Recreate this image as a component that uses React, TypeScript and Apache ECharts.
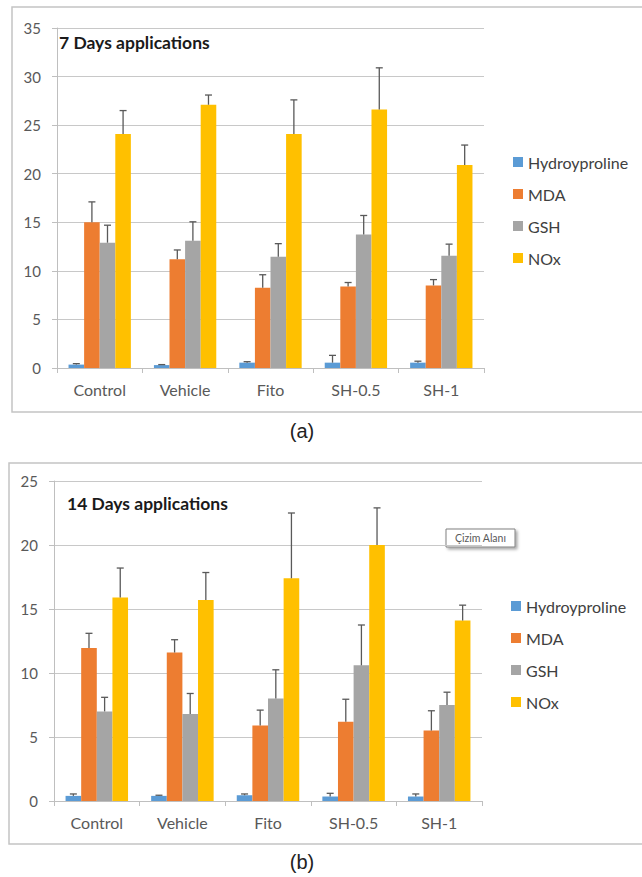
import React, { useEffect, useRef } from "react";
import * as echarts from "echarts";

const categories = ["Control", "Vehicle", "Fito", "SH-0.5", "SH-1"];
const seriesNames = ["Hydroyproline", "MDA", "GSH", "NOx"];
const colors = ["#5B9BD5", "#ED7D31", "#A5A5A5", "#FFC000"];

// 7 days
const hyp7 = [0.35, 0.3, 0.55, 0.55, 0.55];
const hyp7Err = [0.1, 0.05, 0.1, 0.75, 0.15];
const mda7 = [15.0, 11.2, 8.25, 8.4, 8.5];
const mda7Err = [2.1, 0.95, 1.35, 0.4, 0.6];
const gsh7 = [12.9, 13.1, 11.45, 13.75, 11.55];
const gsh7Err = [1.8, 1.95, 1.35, 1.95, 1.2];
const nox7 = [24.1, 27.1, 24.1, 26.6, 20.9];
const nox7Err = [2.4, 1.0, 3.5, 4.3, 2.05];

// 14 days
const hyp14 = [0.4, 0.4, 0.45, 0.35, 0.35];
const hyp14Err = [0.15, 0.05, 0.1, 0.25, 0.2];
const mda14 = [11.95, 11.6, 5.9, 6.2, 5.5];
const mda14Err = [1.15, 1.0, 1.2, 1.75, 1.55];
const gsh14 = [7.0, 6.8, 8.0, 10.6, 7.5];
const gsh14Err = [1.1, 1.6, 2.25, 3.15, 1.0];
const nox14 = [15.9, 15.7, 17.4, 20.0, 14.1];
const nox14Err = [2.3, 2.15, 5.1, 2.9, 1.2];

const yTicks7 = { min: 0, max: 35, interval: 5 };
const yTicks14 = { min: 0, max: 25, interval: 5 };

const FONT = "Lato";
const CAT_GAP = 0.27;

function errData(vals: number[][], errs: number[][]) {
  const out: number[][] = [];
  vals.forEach((arr, s) => {
    arr.forEach((v, c) => {
      out.push([c, s, v, errs[s][c]]);
    });
  });
  return out;
}

export default function App() {
  const ref = useRef<HTMLDivElement>(null);
  useEffect(() => {
    if (!ref.current) return;
    const chart = echarts.init(ref.current, undefined, { renderer: "svg" });

    const vals7 = [hyp7, mda7, gsh7, nox7];
    const errs7 = [hyp7Err, mda7Err, gsh7Err, nox7Err];
    const vals14 = [hyp14, mda14, gsh14, nox14];
    const errs14 = [hyp14Err, mda14Err, gsh14Err, nox14Err];

    const renderErr = (params: any, api: any) => {
      const c = api.value(0);
      const s = api.value(1);
      const v = api.value(2);
      const e = api.value(3);
      const base = api.coord([c, v]);
      const top = api.coord([c, v + e]);
      const band = api.size([1, 0])[0];
      const bw = (band * (1 - CAT_GAP)) / 4;
      const x = base[0] + (s - 1.5) * bw;
      const style = { stroke: "#595959", lineWidth: 1.3 };
      return {
        type: "group",
        children: [
          { type: "line", shape: { x1: x, y1: base[1], x2: x, y2: top[1] }, style },
          { type: "line", shape: { x1: x - 3.5, y1: top[1], x2: x + 3.5, y2: top[1] }, style },
        ],
      };
    };

    const yLabel = { color: "#595959", fontFamily: FONT, fontSize: 15 };
    const xLabel = { color: "#595959", fontFamily: FONT, fontSize: 16 };

    const xAxisCommon = {
      type: "category",
      data: categories,
      boundaryGap: true,
      axisLine: { lineStyle: { color: "#BFBFBF", width: 1 } },
      axisTick: { show: true, length: 5, lineStyle: { color: "#BFBFBF" } },
      axisLabel: { ...xLabel, margin: 13 },
    };
    const yAxisCommon = {
      type: "value",
      axisLine: { show: true, lineStyle: { color: "#BFBFBF", width: 1 } },
      axisTick: { show: true, length: 5, lineStyle: { color: "#BFBFBF" } },
      splitLine: { lineStyle: { color: "#C8C8C8", width: 1 } },
      axisLabel: { ...yLabel, margin: 16 },
    };

    const bars: any[] = [];
    seriesNames.forEach((n, i) => {
      bars.push({
        name: n,
        type: "bar",
        xAxisIndex: 0,
        yAxisIndex: 0,
        data: vals7[i],
        itemStyle: { color: colors[i] },
        barGap: "0%",
        barCategoryGap: "27%",
      });
    });
    seriesNames.forEach((n, i) => {
      bars.push({
        name: n,
        type: "bar",
        xAxisIndex: 1,
        yAxisIndex: 1,
        data: vals14[i],
        itemStyle: { color: colors[i] },
        barGap: "0%",
        barCategoryGap: "27%",
      });
    });

    const legendCommon = {
      orient: "vertical",
      data: seriesNames,
      icon: "rect",
      itemWidth: 10,
      itemHeight: 10,
      itemGap: 16,
      padding: 0,
      selectedMode: false,
      textStyle: { color: "#404040", fontFamily: FONT, fontSize: 16, lineHeight: 16 },
    };

    chart.setOption({
      animation: false,
      color: colors,
      grid: [
        { left: 57, top: 28, width: 427, height: 340 },
        { left: 54, top: 481, width: 428, height: 320 },
      ],
      xAxis: [
        { ...xAxisCommon, gridIndex: 0 },
        { ...xAxisCommon, gridIndex: 1 },
      ],
      yAxis: [
        { ...yAxisCommon, gridIndex: 0, ...yTicks7 },
        { ...yAxisCommon, gridIndex: 1, ...yTicks14 },
      ],
      legend: [
        { ...legendCommon, left: 513, top: 154 },
        { ...legendCommon, left: 511, top: 598 },
      ],
      series: [
        ...bars,
        {
          type: "custom",
          name: "err7",
          xAxisIndex: 0,
          yAxisIndex: 0,
          renderItem: renderErr,
          encode: { x: 0, y: 2 },
          data: errData(vals7, errs7),
          z: 5,
        },
        {
          type: "custom",
          name: "err14",
          xAxisIndex: 1,
          yAxisIndex: 1,
          renderItem: renderErr,
          encode: { x: 0, y: 2 },
          data: errData(vals14, errs14),
          z: 5,
        },
      ],
      graphic: [
        {
          type: "rect",
          shape: { x: 12, y: 7, width: 640, height: 405 },
          style: { fill: "none", stroke: "#C4C4C4", lineWidth: 1.5 },
          silent: true,
          z: -1,
        },
        {
          type: "rect",
          shape: { x: 9, y: 463, width: 640, height: 381 },
          style: { fill: "none", stroke: "#C4C4C4", lineWidth: 1.5 },
          silent: true,
          z: -1,
        },
        {
          type: "text",
          x: 59,
          y: 42,
          style: {
            text: "7 Days applications",
            fill: "#1a1a1a",
            font: `bold 17.5px ${FONT}`,
            verticalAlign: "middle",
          },
        },
        {
          type: "text",
          x: 67,
          y: 503,
          style: {
            text: "14 Days applications",
            fill: "#1a1a1a",
            font: `bold 17.5px ${FONT}`,
            verticalAlign: "middle",
          },
        },
        {
          type: "text",
          x: 302,
          y: 431,
          style: {
            text: "(a)",
            fill: "#222",
            font: "20px 'Liberation Sans'",
            align: "center",
            verticalAlign: "middle",
          },
        },
        {
          type: "text",
          x: 302,
          y: 862,
          style: {
            text: "(b)",
            fill: "#222",
            font: "20px 'Liberation Sans'",
            align: "center",
            verticalAlign: "middle",
          },
        },
        {
          type: "group",
          x: 446,
          y: 529,
          z: 10,
          children: [
            {
              type: "rect",
              shape: { x: 0, y: 0, width: 69, height: 18 },
              style: {
                fill: "#fff",
                stroke: "#808080",
                lineWidth: 1,
                shadowBlur: 3,
                shadowOffsetX: 2,
                shadowOffsetY: 2,
                shadowColor: "rgba(0,0,0,0.35)",
              },
            },
            {
              type: "text",
              x: 34.5,
              y: 9,
              style: {
                text: "Çizim Alanı",
                fill: "#595959",
                font: `10.5px ${FONT}`,
                align: "center",
                verticalAlign: "middle",
              },
            },
          ],
        },
      ],
    });
    return () => chart.dispose();
  }, []);
  return (
    <div
      ref={ref}
      style={{ position: "absolute", left: 0, top: 0, width: 642, height: 877, background: "#fff" }}
    />
  );
}
